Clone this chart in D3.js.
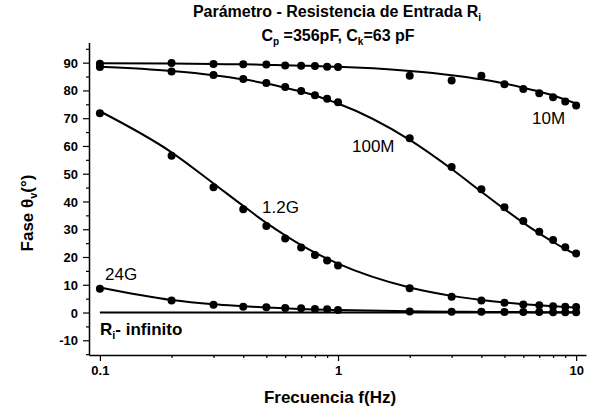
<!DOCTYPE html>
<html>
<head>
<meta charset="utf-8">
<script src="https://cdn.jsdelivr.net/npm/d3@7"></script>
<style>
  body { margin: 0; background: #fff; }
  svg { display: block; font-family: "Liberation Sans", Arial, sans-serif; }
</style>
</head>
<body>
<div id="chart"></div>
<script>
// frequencies (Hz) of the measured points
const freq = [0.1, 0.2, 0.3, 0.4, 0.5, 0.6, 0.7, 0.8, 0.9, 1, 2, 3, 4, 5, 6, 7, 8, 9, 10];

// measured phase (deg) for each input resistance
const meas10M  = [89.6, 89.9, 89.5, 89.4, 89.3, 89.0, 88.9, 88.8, 88.5, 88.4, 85.3, 83.6, 85.3, 82.2, 80.5, 79.0, 77.5, 76.0, 74.6];
const meas100M = [88.4, 86.8, 85.6, 84.1, 82.7, 81.2, 79.8, 78.3, 77.0, 75.7, 62.8, 52.4, 44.4, 37.9, 33.0, 29.1, 26.1, 23.5, 21.3];
const meas1_2G = [71.8, 56.5, 45.1, 37.2, 31.2, 26.7, 23.4, 20.7, 18.7, 16.9, 8.7, 5.7, 4.3, 3.5, 2.9, 2.6, 2.3, 2.1, 2.0];
const meas24G  = [8.6, 4.3, 2.8, 2.1, 1.9, 1.6, 1.5, 1.3, 1.2, 0.9, 0.4, 0.3, 0.3, 0.2, 0.2, 0.2, 0.1, 0.1, 0.1];

// fitted curves at the same frequencies
const fit10M  = [89.8, 89.7, 89.5, 89.4, 89.2, 89.1, 88.9, 88.8, 88.6, 88.5, 87.0, 85.5, 84.0, 82.5, 81.0, 79.6, 78.2, 76.7, 75.3];
const fit100M = [88.5, 87.0, 85.5, 84.0, 82.5, 81.0, 79.6, 78.2, 76.7, 75.3, 62.2, 51.7, 43.5, 37.2, 32.3, 28.5, 25.4, 22.9, 20.8];
const fit1_2G = [72.5, 57.7, 46.5, 38.4, 32.3, 27.8, 24.3, 21.6, 19.4, 17.6, 9.0, 6.0, 4.5, 3.6, 3.0, 2.6, 2.3, 2.0, 1.8];
const fit24G  = [9.0, 4.5, 3.0, 2.3, 1.8, 1.5, 1.3, 1.1, 1.0, 0.9, 0.45, 0.3, 0.23, 0.18, 0.15, 0.13, 0.11, 0.1, 0.09];
const fitInf  = [0, 0];
const fitInfFreq = [0.1, 10];

// ticks
const xMajor = [0.1, 1, 10];
const xMinor = [0.2, 0.3, 0.4, 0.5, 0.6, 0.7, 0.8, 0.9, 2, 3, 4, 5, 6, 7, 8, 9];
const yMajor = [-10, 0, 10, 20, 30, 40, 50, 60, 70, 80, 90];
const yMinor = [-15, -5, 5, 15, 25, 35, 45, 55, 65, 75, 85, 95];

const W = 595, H = 414;

const svg = d3.select('#chart')
  .append('svg')
  .attr('width', W)
  .attr('height', H);

const x = d3.scaleLog().domain([0.09, 11]).range([89, 586]);
const y = d3.scaleLinear().domain([-15.3, 97.3]).range([355, 42.4]);

// axes: major + minor ticks
const gx = svg.append('g').attr('transform', 'translate(0,' + y(-15.3) + ')');
gx.call(d3.axisBottom(x).tickValues(xMajor).tickSize(6).tickSizeOuter(0).tickFormat(d => String(d)));
gx.append('g').call(d3.axisBottom(x).tickValues(xMinor).tickSize(3).tickSizeOuter(0).tickFormat(''))
  .select('.domain').remove();

const gy = svg.append('g').attr('transform', 'translate(' + x(0.09) + ',0)');
gy.call(d3.axisLeft(y).tickValues(yMajor).tickSize(6).tickSizeOuter(0).tickFormat(d => String(d)));
gy.append('g').call(d3.axisLeft(y).tickValues(yMinor.filter(v => v > -15.3)).tickSize(3).tickSizeOuter(0).tickFormat(''))
  .select('.domain').remove();

svg.selectAll('.domain').attr('stroke', '#000').attr('stroke-width', 1.5);
svg.selectAll('.tick line').attr('stroke', '#000').attr('stroke-width', 1.2);
gx.selectAll('.tick text')
  .attr('font-size', 13).attr('font-weight', 'bold').attr('fill', '#000')
  .attr('font-family', '"Liberation Sans", Arial, sans-serif')
  .attr('dy', null).attr('y', 20);
gy.selectAll('.tick text')
  .attr('font-size', 13).attr('font-weight', 'bold').attr('fill', '#000')
  .attr('font-family', '"Liberation Sans", Arial, sans-serif')
  .attr('x', -11).attr('dy', '0.35em');

// curves
const line = d3.line()
  .x(d => x(d[0]))
  .y(d => y(d[1]))
  .curve(d3.curveMonotoneX);

const fits = [fit10M, fit100M, fit1_2G, fit24G];
fits.forEach(vals => {
  svg.append('path')
    .datum(freq.map((f, i) => [f, vals[i]]))
    .attr('fill', 'none')
    .attr('stroke', '#000')
    .attr('stroke-width', 2)
    .attr('d', line);
});
svg.append('path')
  .datum(fitInfFreq.map((f, i) => [f, fitInf[i]]))
  .attr('fill', 'none')
  .attr('stroke', '#000')
  .attr('stroke-width', 2)
  .attr('d', line);

// measured points
const meas = [meas10M, meas100M, meas1_2G, meas24G];
meas.forEach(vals => {
  svg.append('g')
    .selectAll('circle')
    .data(freq.map((f, i) => [f, vals[i]]))
    .enter()
    .append('circle')
    .attr('cx', d => x(d[0]))
    .attr('cy', d => y(d[1]))
    .attr('r', 4)
    .attr('fill', '#000');
});

// curve labels
const lbl = svg.append('g').attr('font-size', 17).attr('fill', '#000');
lbl.append('text').attr('x', 532).attr('y', 124).text('10M');
lbl.append('text').attr('x', 352).attr('y', 152).text('100M');
lbl.append('text').attr('x', 262).attr('y', 213).text('1.2G');
lbl.append('text').attr('x', 105).attr('y', 280).text('24G');

const inf = svg.append('text')
  .attr('x', 100).attr('y', 335)
  .attr('font-size', 17).attr('font-weight', 'bold');
inf.append('tspan').text('R');
inf.append('tspan').attr('font-size', 11).attr('dy', 4).text('i');
inf.append('tspan').attr('dy', -4).text('- infinito');

// title
const t1 = svg.append('text')
  .attr('x', 337).attr('y', 17)
  .attr('text-anchor', 'middle')
  .attr('font-size', 16).attr('font-weight', 'bold');
t1.append('tspan').text('Parámetro - Resistencia de Entrada R');
t1.append('tspan').attr('font-size', 10).attr('dy', 4).text('i');

const t2 = svg.append('text')
  .attr('x', 338).attr('y', 41)
  .attr('text-anchor', 'middle')
  .attr('font-size', 16).attr('font-weight', 'bold');
t2.append('tspan').text('C');
t2.append('tspan').attr('font-size', 10).attr('dy', 4).text('p');
t2.append('tspan').attr('dy', -4).text(' =356pF, C');
t2.append('tspan').attr('font-size', 10).attr('dy', 4).text('k');
t2.append('tspan').attr('dy', -4).text('=63 pF');

// axis titles
svg.append('text')
  .attr('x', 330).attr('y', 403)
  .attr('text-anchor', 'middle')
  .attr('font-size', 17).attr('font-weight', 'bold')
  .text('Frecuencia f(Hz)');

const yt = svg.append('text')
  .attr('transform', 'translate(33,213) rotate(-90)')
  .attr('text-anchor', 'middle')
  .attr('font-size', 17).attr('font-weight', 'bold');
yt.append('tspan').text('Fase θ');
yt.append('tspan').attr('font-size', 11).attr('dy', 4).text('v');
yt.append('tspan').attr('dy', -4).text('(°)');
</script>
</body>
</html>
